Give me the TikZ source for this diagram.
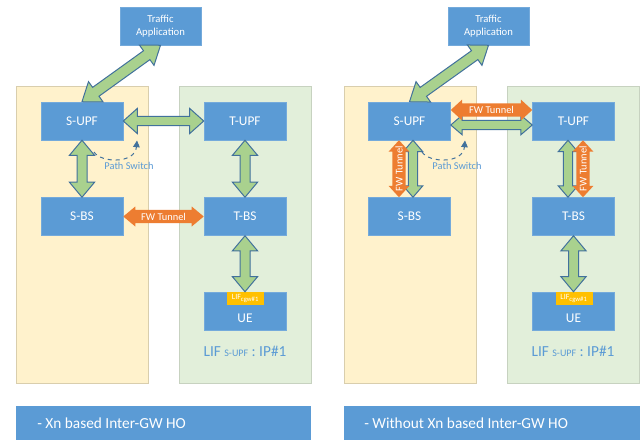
\documentclass[tikz,border=0pt]{standalone}
\usepackage{fontspec}
\setmainfont{Carlito}
\usetikzlibrary{calc,arrows.meta}
\definecolor{boxblue}{HTML}{5B9BD5}
\definecolor{regyel}{HTML}{FFF2CC}
\definecolor{reggrn}{HTML}{E2EFDA}
\definecolor{agreen}{HTML}{A9D18E}
\definecolor{aline}{HTML}{41719C}
\definecolor{aorange}{HTML}{ED7D31}
\definecolor{lifyel}{HTML}{FFC000}
\definecolor{txtblue}{HTML}{5B9BD5}
\newcommand\dblarrow[6]{%
  \path (#2) coordinate (da1) (#3) coordinate (da2);
  \path ($(da1)!#6!(da2)$) coordinate (dh1) ($(da2)!#6!(da1)$) coordinate (dh2);
  \draw[#1] (da1) -- ($(dh1)!#5!90:(da2)$) -- ($(dh1)!#4!90:(da2)$)
    -- ($(dh2)!#4!-90:(da1)$) -- ($(dh2)!#5!-90:(da1)$) -- (da2)
    -- ($(dh2)!#5!90:(da1)$) -- ($(dh2)!#4!90:(da1)$)
    -- ($(dh1)!#4!-90:(da2)$) -- ($(dh1)!#5!-90:(da2)$) -- cycle;
}
\begin{document}
\begin{tikzpicture}[x=0.75pt,y=-0.75pt,
  box/.style={fill=boxblue, draw=boxblue!85!white, text=white, minimum width=61.5pt,
    minimum height=28.5pt, inner sep=0pt, font=\fontsize{10}{12}\selectfont},
  tabox/.style={box, minimum width=60.75pt, align=center, font=\fontsize{8}{9.6}\selectfont},
  boxtext/.style={text=white, inner sep=0pt, font=\fontsize{10}{12}\selectfont},
  liflbl/.style={fill=lifyel, text=white, minimum width=27.75pt, minimum height=9.75pt,
    inner sep=0pt, font=\fontsize{6}{6.5}\selectfont},
  liftext/.style={text=txtblue, inner sep=0pt, font=\fontsize{11.5}{13}\selectfont},
  yelreg/.style={fill=regyel, draw=regyel!85!black, line width=0.3pt},
  grnreg/.style={fill=reggrn, draw=reggrn!88!black, line width=0.3pt},
  barbox/.style={fill=boxblue, draw=none, minimum height=25.5pt, inner sep=0pt},
  bartext/.style={text=white, inner sep=0pt, font=\fontsize{11.5}{13}\selectfont},
  garrow/.style={fill=agreen, draw=aline, line width=0.75pt, line join=miter},
  oarrow/.style={fill=aorange, draw=none},
  otext/.style={text=white, inner sep=0pt, font=\fontsize{7.8}{9}\selectfont},
  pswitch/.style={draw=aline, dashed, line width=0.75pt, -{Triangle[length=5pt,width=5pt]}},
  pstext/.style={text=txtblue, inner sep=0pt, font=\fontsize{7.8}{9}\selectfont}
]
\useasboundingbox (0,0) rectangle (640,440);
\fill[white] (0,0) rectangle (640,440);

% ================= LEFT PANEL =================
\path[yelreg] (16,86) rectangle (148,383);
\path[grnreg] (179,86) rectangle (311,383);
\node[barbox, minimum width=221.25pt] (lbar) at (163.5,423) {};
\node[bartext, anchor=west] (lbart) at (37,423) {- Xn based Inter-GW HO};

\node[tabox] (lta) at (160.5,26) {Traffic\\Application};
\node[box] (lsu) at (82,121) {S-UPF};
\node[box] (ltu) at (245,121) {T-UPF};
\node[box] (lsb) at (82,216.5) {S-BS};
\node[box] (ltb) at (245,216.5) {T-BS};
\node[box] (lue) at (245,311) {};
\node[boxtext] (luet) at (245,318) {UE};
\node[liflbl] (llif) at (245.5,298.5) {LIF\textsubscript{cgw\#1}};
\node[liftext] (lift) at (245,351) {LIF {\fontsize{7.5}{8}\selectfont S-UPF} : IP\#1};

\dblarrow{garrow}{lta.south}{lsu.north}{4.1pt}{9.4pt}{12.75pt}
\dblarrow{garrow}{lsu.east}{ltu.west}{3.4pt}{9.4pt}{10.5pt}
\dblarrow{garrow}{lsu.south}{lsb.north}{3.75pt}{9.4pt}{11.25pt}
\dblarrow{garrow}{ltu.south}{ltb.north}{3.75pt}{9.4pt}{11.25pt}
\dblarrow{garrow}{ltb.south}{lue.north}{3.75pt}{9.4pt}{11.25pt}
\dblarrow{oarrow}{lsb.east}{ltb.west}{4.9pt}{7.5pt}{9pt}
\node[otext] (lfw) at ($(lsb.east)!0.5!(ltb.west)$) {FW Tunnel};

\coordinate (lps1) at (94,152);
\coordinate (lps2) at (137,140.5);
\draw[pswitch] (lps1) .. controls (101,163) and (135,164) .. (lps2);
\node[pstext] (lpst) at (129,166) {Path Switch};

% ================= RIGHT PANEL =================
\begin{scope}[xshift=246pt]
\path[yelreg] (16,86) rectangle (148,383);
\path[grnreg] (179,86) rectangle (311,383);
\node[barbox, minimum width=222pt] (rbar) at (164,423) {};
\node[bartext, anchor=west] (rbart) at (36,423) {- Without Xn based Inter-GW HO};

\node[tabox] (rta) at (160.5,26) {Traffic\\Application};
\node[box] (rsu) at (81.5,121) {S-UPF};
\node[box] (rtu) at (245.5,121) {T-UPF};
\node[box] (rsb) at (81.5,216.5) {S-BS};
\node[box] (rtb) at (245.5,216.5) {T-BS};
\node[box] (rue) at (245.5,311) {};
\node[boxtext] (ruet) at (245.5,318) {UE};
\node[liflbl] (rlif) at (246,298.5) {LIF\textsubscript{cgw\#1}};
\node[liftext] (rift) at (245,351) {LIF {\fontsize{7.5}{8}\selectfont S-UPF} : IP\#1};

\dblarrow{garrow}{rta.south}{rsu.north}{4.1pt}{9.4pt}{12.75pt}
\dblarrow{garrow}{rtb.south}{rue.north}{3.75pt}{9.4pt}{11.25pt}

% green tunnels (behind)
\dblarrow{garrow}{$(rsu.east)+(0,4)$}{$(rtu.west)+(0,4)$}{3.4pt}{7.3pt}{8.5pt}
\dblarrow{garrow}{$(rsu.south)+(3.5,0)$}{$(rsb.north)+(3.5,0)$}{3.4pt}{7.3pt}{8.5pt}
\dblarrow{garrow}{$(rtu.south)+(-5.5,0)$}{$(rtb.north)+(-5.5,0)$}{3.4pt}{7.3pt}{8.5pt}
% orange FW tunnels (front)
\dblarrow{oarrow}{$(rsu.east)+(0,-11)$}{$(rtu.west)+(0,-11)$}{5pt}{7.8pt}{8.5pt}
\node[otext] (rfw1) at ($(rsu.east)!0.5!(rtu.west)+(0,-11)$) {FW Tunnel};
\dblarrow{oarrow}{$(rsu.south)+(-10.5,0)$}{$(rsb.north)+(-10.5,0)$}{5pt}{7.8pt}{8.5pt}
\node[otext, rotate=90] (rfw2) at ($(rsu.south)!0.5!(rsb.north)+(-10.5,0)$) {FW Tunnel};
\dblarrow{oarrow}{$(rtu.south)+(9.5,0)$}{$(rtb.north)+(9.5,0)$}{5pt}{7.8pt}{8.5pt}
\node[otext, rotate=90] (rfw3) at ($(rtu.south)!0.5!(rtb.north)+(9.5,0)$) {FW Tunnel};

\coordinate (rps1) at (94,152);
\coordinate (rps2) at (137,140.5);
\draw[pswitch] (rps1) .. controls (101,163) and (135,164) .. (rps2);
\node[pstext] (rpst) at (129,166) {Path Switch};
\end{scope}
\end{tikzpicture}
\end{document}
